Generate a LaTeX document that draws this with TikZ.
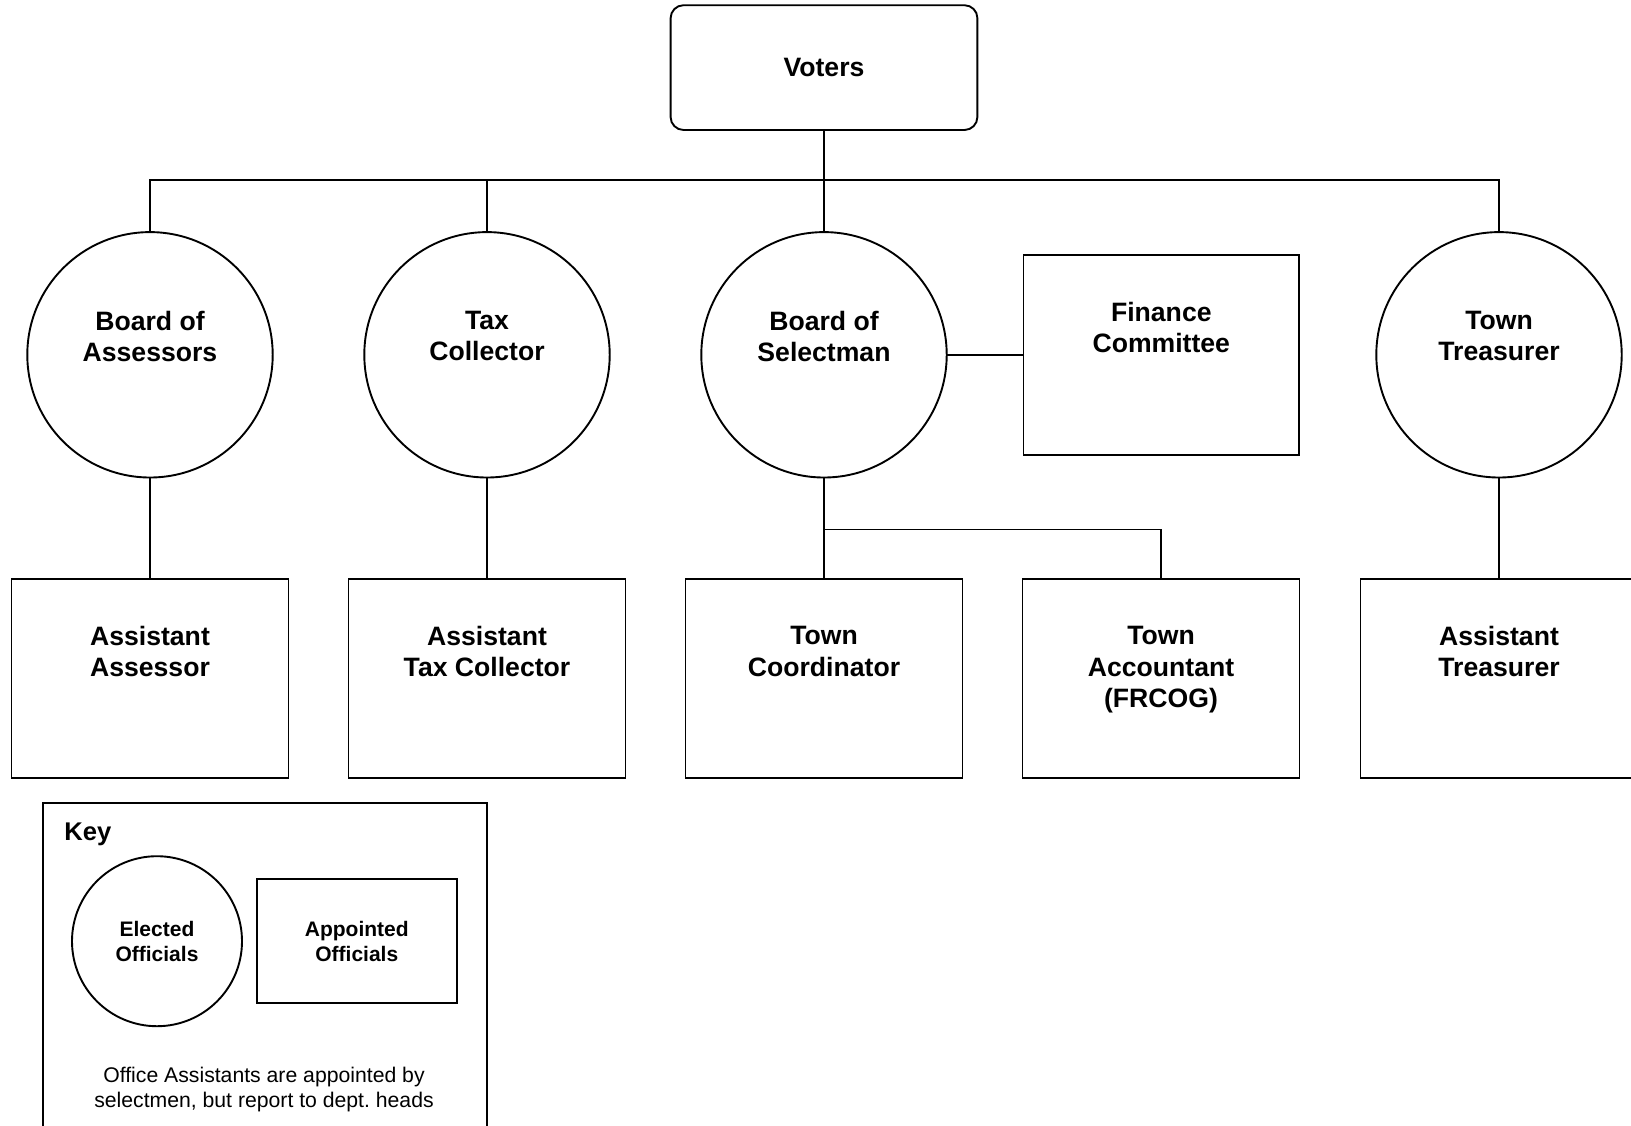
\documentclass[tikz,border=0pt]{standalone}
\usepackage{fontspec}
\setmainfont{Liberation Sans}
\usetikzlibrary{positioning}

\begin{document}
\begin{tikzpicture}[line width=0.95pt,node distance=45.8pt,outer sep=0pt]
	\tikzstyle{office}=[circle,draw,minimum size=122.7pt,inner sep=0pt]
	\tikzstyle{post}=[rectangle,draw,minimum width=138.5pt,minimum height=99.4pt,inner sep=0pt]
	\tikzstyle{title}=[inner sep=0pt,align=center,anchor=north,font=\bfseries\fontsize{13.3}{15.6}\selectfont]
	\tikzstyle{keytext}=[align=center,inner sep=0pt,font=\bfseries\fontsize{10.5}{12.5}\selectfont]

	\useasboundingbox (0,0) rectangle (815.5pt,-562.5pt);

	\node[draw,rounded corners=6.5pt,minimum width=153.4pt,minimum height=62.4pt,font=\bfseries\fontsize{13.3}{15.6}\selectfont] (V) at (412pt,-33.8pt) {Voters};

	\node[office] (BA) at (75pt,-177.4pt) {};
	\node[office] (TC) [right = of BA] {};
	\node[office] (BS) [right = of TC] {};
	\node[office] (TT) at (749.5pt,-177.4pt) {};
	\node[post,minimum width=137.8pt,minimum height=99.9pt] (FC) [right = 38.4pt of BS] {};

	\node[post] (AA) [below = 50.9pt of BA] {};
	\node[post] (ATC) [below = 50.9pt of TC] {};
	\node[post] (TCo) [below = 50.9pt of BS] {};
	\node[post] (TA) [right = 30pt of TCo] {};
	\node[post] (AT) [below = 50.9pt of TT] {};

	\node[title] (BAt) [below = 39.6pt of BA.north] {Board of\\Assessors};
	\node[title] (TCt) [below = 39.6pt of TC.north] {Tax\\Collector};
	\node[title] (BSt) [below = 39.6pt of BS.north] {Board of\\Selectman};
	\node[title] (TTt) [below = 39.6pt of TT.north] {Town\\Treasurer};
	\node[title] (FCt) [below = 23.6pt of FC.north] {Finance\\Committee};
	\node[title] (AAt) [below = 23.6pt of AA.north] {Assistant\\Assessor};
	\node[title] (ATCt) [below = 23.6pt of ATC.north] {Assistant\\Tax Collector};
	\node[title] (TCot) [below = 23.6pt of TCo.north] {Town\\Coordinator};
	\node[title] (TAt) [below = 23.6pt of TA.north] {Town\\Accountant\\(FRCOG)};
	\node[title] (ATt) [below = 23.6pt of AT.north] {Assistant\\Treasurer};

	\coordinate (bus) at ([yshift=-25pt]V.south);
	\coordinate (split) at ([yshift=-26pt]BS.south);

	\draw (V.south) -- (BS.north);
	\draw (BA.north) |- (bus) -| (TT.north);
	\draw (TC.north) -- (TC.north |- bus);
	\draw (BS.east) -- (FC.west);
	\draw (BA) -- (AA);
	\draw (TC) -- (ATC);
	\draw (BS) -- (TCo);
	\draw (split) -| (TA.north);
	\draw (TT) -- (AT);

	\node[draw,minimum width=222.1pt,minimum height=180pt,inner sep=0pt,anchor=north west] (key) at (21.3pt,-401.5pt) {};
	\node[anchor=base west,inner sep=0pt,font=\bfseries\fontsize{12.8}{15}\selectfont] (keyt) at (32.2pt,-420.3pt) {Key};
	\node[keytext,circle,draw,minimum size=85pt] (KE) at (78.5pt,-470.6pt) {Elected\\Officials};
	\node[keytext,rectangle,draw,minimum width=99.8pt,minimum height=61.9pt] (KA) at (178.4pt,-470.5pt) {Appointed\\Officials};
	\node[align=center,inner sep=0pt,font=\fontsize{10.6}{12.5}\selectfont] (note) at (132pt,-544.5pt) {Office Assistants are appointed by\\selectmen, but report to dept.\ heads};
\end{tikzpicture}
\end{document}
